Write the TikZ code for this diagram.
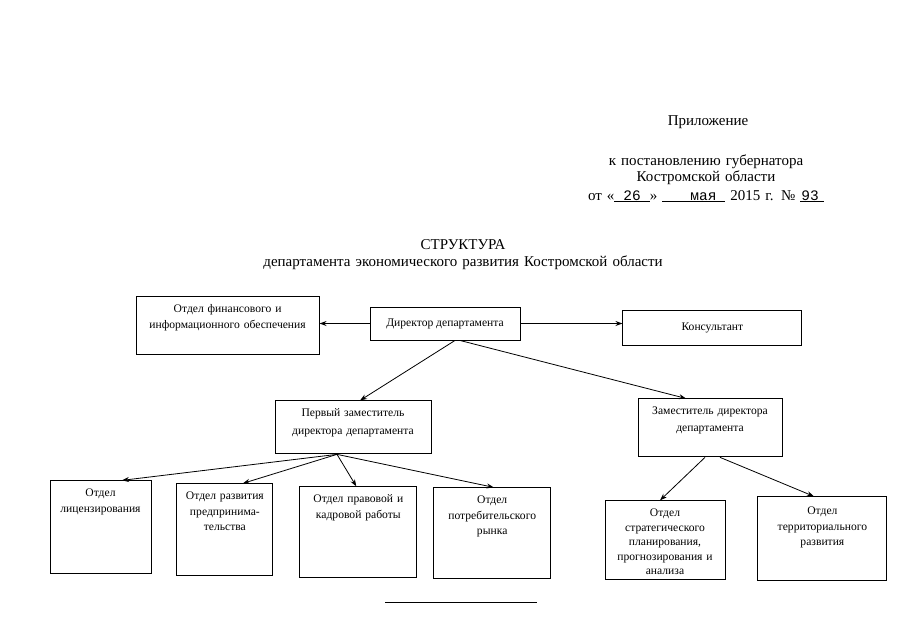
\documentclass[tikz,border=0pt]{standalone}
\usepackage{fontspec}
\setmainfont{Liberation Serif}
\newfontfamily\stampfont{Liberation Mono}
\usetikzlibrary{positioning,arrows.meta}

\newcommand{\boxfont}{\fontsize{11.6}{15.5}\selectfont}
\newcommand{\headfont}{\fontsize{15}{16.5}\selectfont}
\newcommand{\blank}[3]{\underline{\hspace{#1}{\stampfont\fontsize{14.5}{16.5}\selectfont #2}\hspace{#3}}}

\tikzset{
  deptbox/.style={draw, line width=0.9pt, text width=#1, align=center,
    inner sep=3pt, text height=13pt, font=\boxfont},
  headbox/.style={draw, line width=0.9pt, align=center, font=\boxfont},
  link/.style={-{Stealth[length=7pt,width=5pt]}, line width=0.8pt},
}

\begin{document}
\begin{tikzpicture}[x=1pt,y=-1pt]
  \useasboundingbox (0,0) rectangle (905,640);

  % Heading
  \node[font=\headfont, anchor=base] (app) at (708,125) {Приложение};
  \node[font=\headfont, text width=300pt, align=center, anchor=base, inner sep=0pt]
    (decree) at (706,165)
    {к постановлению губернатора\\Костромской области\\[2pt]
     от «\blank{9pt}{26}{9pt}» \blank{28pt}{мая}{9pt} 2015 г. № \blank{1pt}{93}{5pt}};
  \node[font=\headfont, text width=460pt, align=center, anchor=base, inner sep=0pt]
    (title) at (463,249)
    {СТРУКТУРА\\[1pt]департамента экономического развития Костромской области};

  % Define nodes
  \node[headbox, minimum width=150pt, minimum height=33pt] (dir) at (445,323.5) {Директор департамента};
  \node[deptbox=177pt, text depth=39pt, left=50pt of dir, yshift=-2pt] (fin)
    {Отдел финансового и\\информационного обеспечения};
  \node[headbox, minimum width=179pt, minimum height=35pt, right=102pt of dir, yshift=-4pt] (kons) {Консультант};
  \node[deptbox=150pt, text depth=34pt, below=60pt of dir, xshift=-92pt] (first)
    {Первый заместитель\\[2.5pt]директора департамента};
  \node[deptbox=138pt, text depth=39pt, below=58pt of dir, xshift=265pt] (deputy)
    {Заместитель директора\\[1.5pt]департамента};
  \node[deptbox=95pt,  text depth=74pt, below=26pt of first, xshift=-252.5pt] (lic)
    {Отдел\\лицензирования};
  \node[deptbox=90pt,  text depth=73pt, right=25pt of lic, yshift=-2.5pt] (entr)
    {Отдел развития\\предпринима-\\тельства};
  \node[deptbox=111pt, text depth=72pt, right=26pt of entr, yshift=-2.5pt] (law)
    {Отдел правовой и\\кадровой работы};
  \node[deptbox=111pt, text depth=72pt, right=16pt of law, yshift=-1pt] (market)
    {Отдел\\потребительского\\рынка};
  \node[deptbox=114pt, text depth=60pt, font=\fontsize{11.6}{14.5}\selectfont,
    below=43pt of deputy, xshift=-45pt] (plan)
    {Отдел\\стратегического\\планирования,\\прогнозирования и\\анализа};
  \node[deptbox=123pt, text depth=63pt, text height=15pt, right=32pt of plan, yshift=1.5pt] (terr)
    {Отдел\\территориального\\развития};

  % Connect the nodes
  \draw[link] (dir.west) -- (dir.west -| fin.east);
  \draw[link] (dir.east) -- (dir.east -| kons.west);
  \draw[link] ([xshift=10pt]dir.south) -- ([xshift=7pt]first.north);
  \draw[link] ([xshift=15pt]dir.south) -- ([xshift=-24pt]deputy.north);
  \draw[link] ([xshift=-16pt]first.south) -- ([xshift=21.5pt]lic.north);
  \draw[link] ([xshift=-16pt]first.south) -- ([xshift=18pt]entr.north);
  \draw[link] ([xshift=-16pt]first.south) -- ([xshift=-2pt]law.north);
  \draw[link] ([xshift=-16pt]first.south) -- ([xshift=1.5pt]market.north);
  \draw[link] ([xshift=-5pt]deputy.south) -- ([xshift=-5pt]plan.north);
  \draw[link] ([xshift=10pt]deputy.south) -- ([xshift=-8.5pt]terr.north);

  % Closing rule
  \draw[line width=0.8pt] (385,602) -- (537,602);

\end{tikzpicture}
\end{document}
